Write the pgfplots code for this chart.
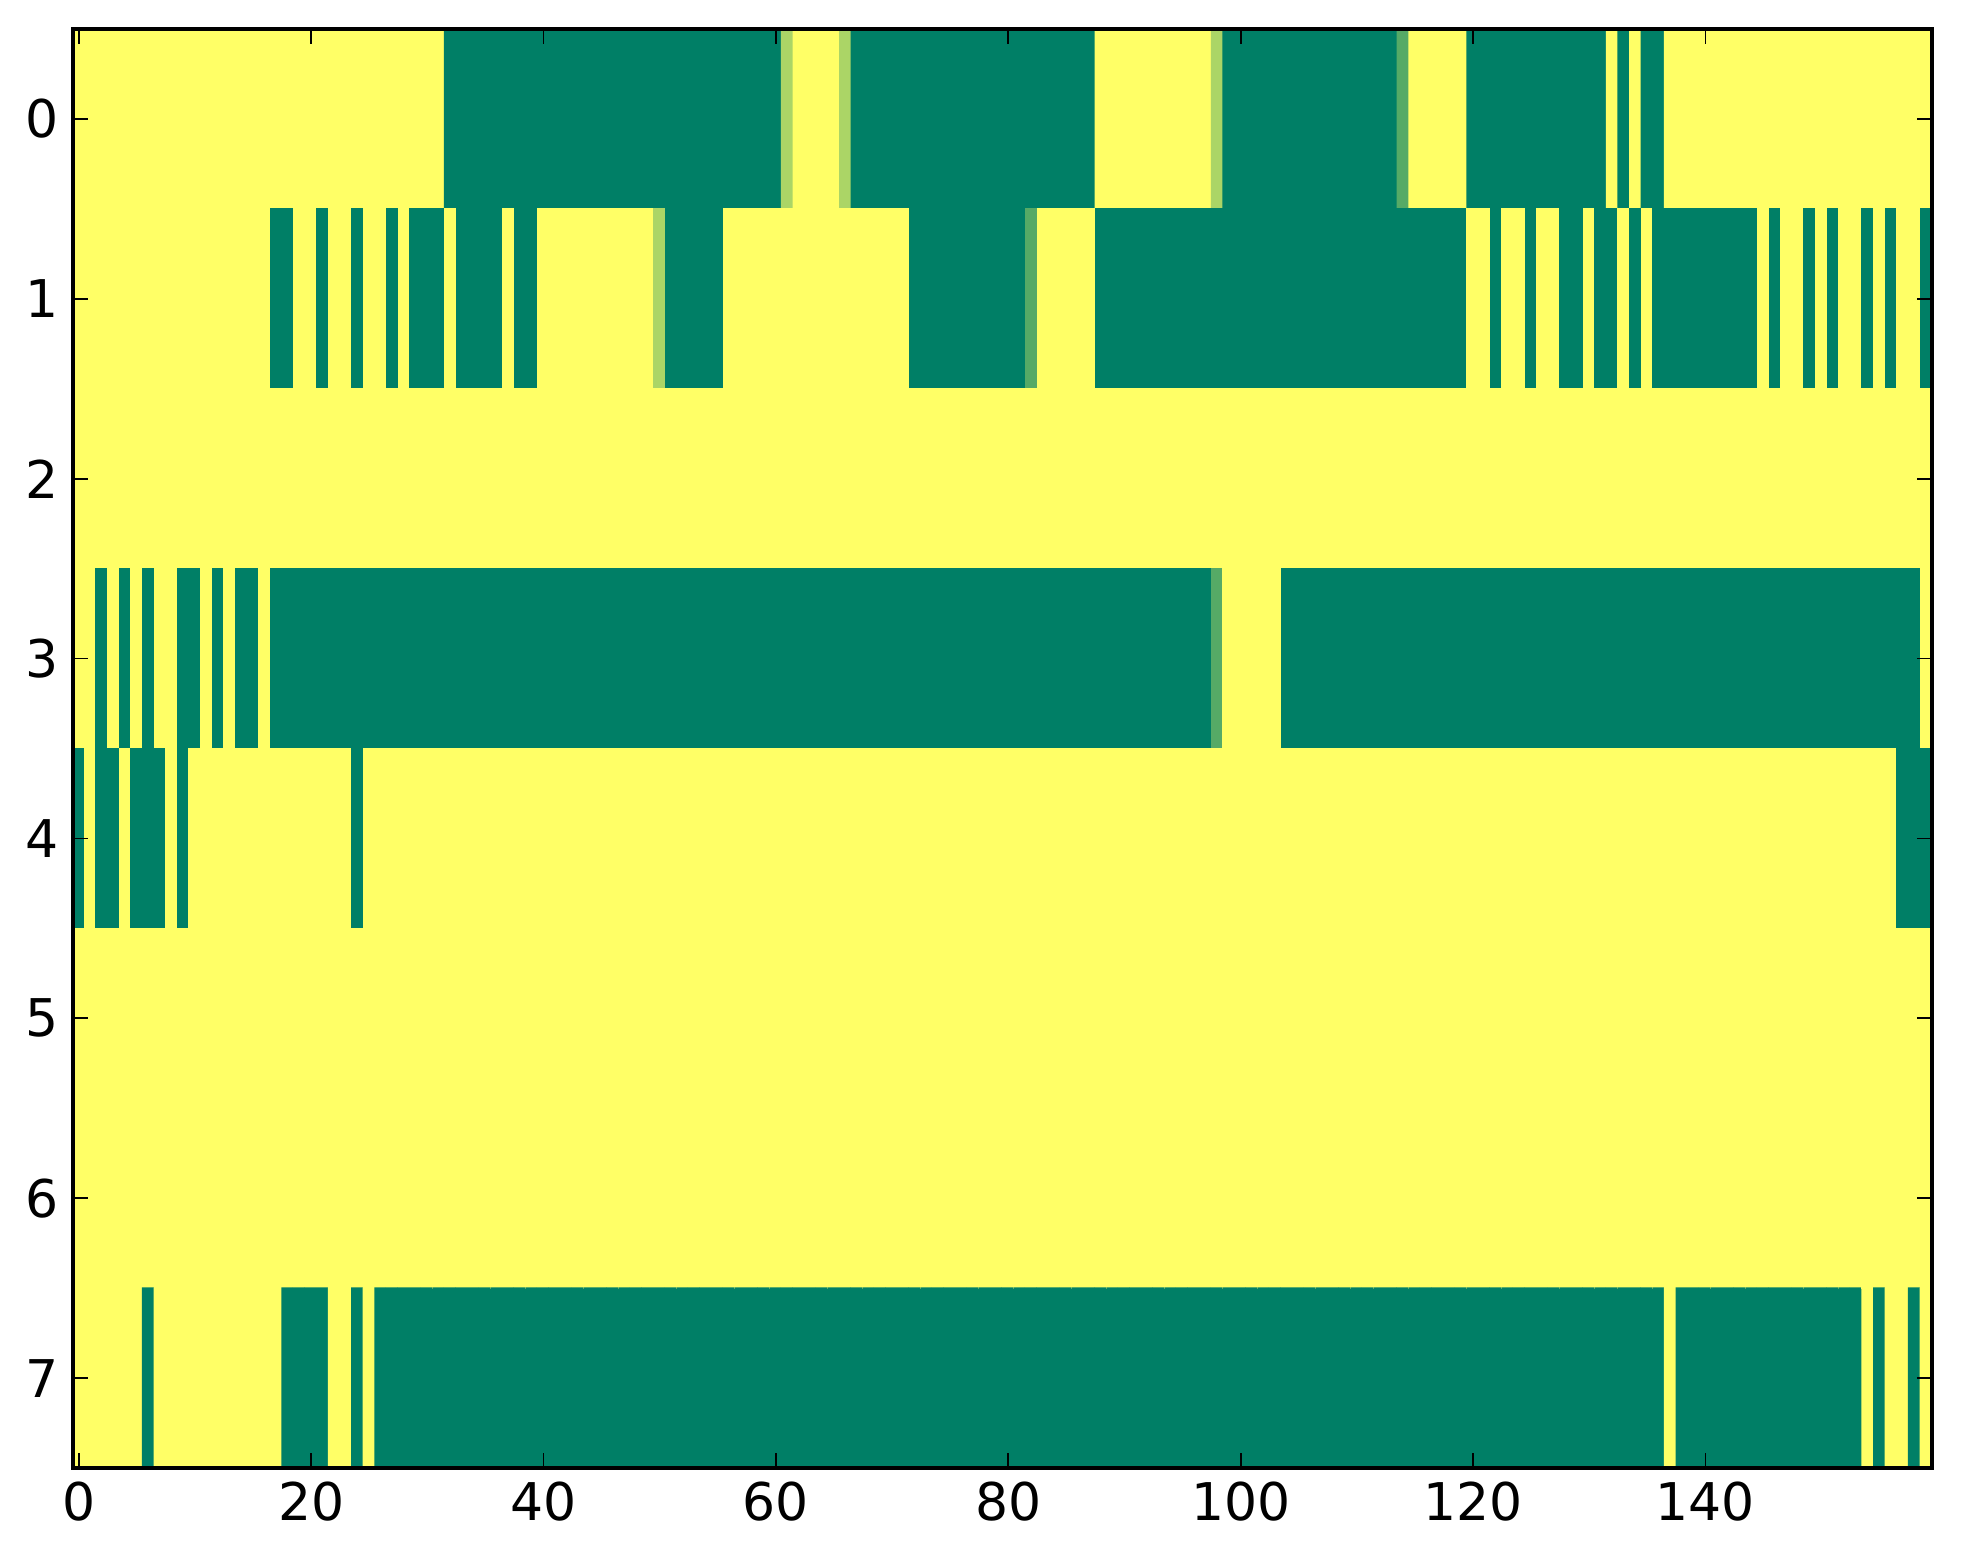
\documentclass[border=0pt]{standalone}
\usepackage{pgfplots}
\pgfplotsset{compat=1.18}
\usepackage{fontspec}
\setmainfont{DejaVu Sans}
\begin{document}
\begin{tikzpicture}
\begin{axis}[
  at={(0,0)}, anchor=south west,
  scale only axis, width=464.75pt, height=359.75pt,
  xmin=-0.5, xmax=159.5, ymin=-0.5, ymax=7.5,
  y dir=reverse,
  xtick={0,20,...,140}, ytick={0,1,...,7},
  tick align=inside, tick pos=both,
  major tick length=3.7pt,
  every tick/.style={line width=0.45pt, black},
  axis line style={line width=0.8pt},
  ticklabel style={font=\fontsize{13}{13}\selectfont},
  /pgf/number format/assume math mode=true,
  colormap={summer}{rgb255=(0,127,102) rgb255=(255,255,102)},
  point meta min=0, point meta max=1,
  axis on top,
  enlargelimits=false,
]
\addplot[matrix plot*, mesh/cols=160, point meta=explicit] table[x=x, y=y, meta=c, row sep=\\] {
x y c\\
0 0 1\\1 0 1\\2 0 1\\3 0 1\\4 0 1\\5 0 1\\6 0 1\\7 0 1\\8 0 1\\9 0 1\\
10 0 1\\11 0 1\\12 0 1\\13 0 1\\14 0 1\\15 0 1\\16 0 1\\17 0 1\\18 0 1\\19 0 1\\
20 0 1\\21 0 1\\22 0 1\\23 0 1\\24 0 1\\25 0 1\\26 0 1\\27 0 1\\28 0 1\\29 0 1\\
30 0 1\\31 0 1\\32 0 0\\33 0 0\\34 0 0\\35 0 0\\36 0 0\\37 0 0\\38 0 0\\39 0 0\\
40 0 0\\41 0 0\\42 0 0\\43 0 0\\44 0 0\\45 0 0\\46 0 0\\47 0 0\\48 0 0\\49 0 0\\
50 0 0\\51 0 0\\52 0 0\\53 0 0\\54 0 0\\55 0 0\\56 0 0\\57 0 0\\58 0 0\\59 0 0\\
60 0 0\\61 0 0.667\\62 0 1\\63 0 1\\64 0 1\\65 0 1\\66 0 0.667\\67 0 0\\68 0 0\\69 0 0\\
70 0 0\\71 0 0\\72 0 0\\73 0 0\\74 0 0\\75 0 0\\76 0 0\\77 0 0\\78 0 0\\79 0 0\\
80 0 0\\81 0 0\\82 0 0\\83 0 0\\84 0 0\\85 0 0\\86 0 0\\87 0 0\\88 0 1\\89 0 1\\
90 0 1\\91 0 1\\92 0 1\\93 0 1\\94 0 1\\95 0 1\\96 0 1\\97 0 1\\98 0 0.667\\99 0 0\\
100 0 0\\101 0 0\\102 0 0\\103 0 0\\104 0 0\\105 0 0\\106 0 0\\107 0 0\\108 0 0\\109 0 0\\
110 0 0\\111 0 0\\112 0 0\\113 0 0\\114 0 0.333\\115 0 1\\116 0 1\\117 0 1\\118 0 1\\119 0 1\\
120 0 0\\121 0 0\\122 0 0\\123 0 0\\124 0 0\\125 0 0\\126 0 0\\127 0 0\\128 0 0\\129 0 0\\
130 0 0\\131 0 0\\132 0 1\\133 0 0\\134 0 1\\135 0 0\\136 0 0\\137 0 1\\138 0 1\\139 0 1\\
140 0 1\\141 0 1\\142 0 1\\143 0 1\\144 0 1\\145 0 1\\146 0 1\\147 0 1\\148 0 1\\149 0 1\\
150 0 1\\151 0 1\\152 0 1\\153 0 1\\154 0 1\\155 0 1\\156 0 1\\157 0 1\\158 0 1\\159 0 1\\
0 1 1\\1 1 1\\2 1 1\\3 1 1\\4 1 1\\5 1 1\\6 1 1\\7 1 1\\8 1 1\\9 1 1\\
10 1 1\\11 1 1\\12 1 1\\13 1 1\\14 1 1\\15 1 1\\16 1 1\\17 1 0\\18 1 0\\19 1 1\\
20 1 1\\21 1 0\\22 1 1\\23 1 1\\24 1 0\\25 1 1\\26 1 1\\27 1 0\\28 1 1\\29 1 0\\
30 1 0\\31 1 0\\32 1 1\\33 1 0\\34 1 0\\35 1 0\\36 1 0\\37 1 1\\38 1 0\\39 1 0\\
40 1 1\\41 1 1\\42 1 1\\43 1 1\\44 1 1\\45 1 1\\46 1 1\\47 1 1\\48 1 1\\49 1 1\\
50 1 0.667\\51 1 0\\52 1 0\\53 1 0\\54 1 0\\55 1 0\\56 1 1\\57 1 1\\58 1 1\\59 1 1\\
60 1 1\\61 1 1\\62 1 1\\63 1 1\\64 1 1\\65 1 1\\66 1 1\\67 1 1\\68 1 1\\69 1 1\\
70 1 1\\71 1 1\\72 1 0\\73 1 0\\74 1 0\\75 1 0\\76 1 0\\77 1 0\\78 1 0\\79 1 0\\
80 1 0\\81 1 0\\82 1 0.333\\83 1 1\\84 1 1\\85 1 1\\86 1 1\\87 1 1\\88 1 0\\89 1 0\\
90 1 0\\91 1 0\\92 1 0\\93 1 0\\94 1 0\\95 1 0\\96 1 0\\97 1 0\\98 1 0\\99 1 0\\
100 1 0\\101 1 0\\102 1 0\\103 1 0\\104 1 0\\105 1 0\\106 1 0\\107 1 0\\108 1 0\\109 1 0\\
110 1 0\\111 1 0\\112 1 0\\113 1 0\\114 1 0\\115 1 0\\116 1 0\\117 1 0\\118 1 0\\119 1 0\\
120 1 1\\121 1 1\\122 1 0\\123 1 1\\124 1 1\\125 1 0\\126 1 1\\127 1 1\\128 1 0\\129 1 0\\
130 1 1\\131 1 0\\132 1 0\\133 1 1\\134 1 0\\135 1 1\\136 1 0\\137 1 0\\138 1 0\\139 1 0\\
140 1 0\\141 1 0\\142 1 0\\143 1 0\\144 1 0\\145 1 1\\146 1 0\\147 1 1\\148 1 1\\149 1 0\\
150 1 1\\151 1 0\\152 1 1\\153 1 1\\154 1 0\\155 1 1\\156 1 0\\157 1 1\\158 1 1\\159 1 0\\
0 2 1\\1 2 1\\2 2 1\\3 2 1\\4 2 1\\5 2 1\\6 2 1\\7 2 1\\8 2 1\\9 2 1\\
10 2 1\\11 2 1\\12 2 1\\13 2 1\\14 2 1\\15 2 1\\16 2 1\\17 2 1\\18 2 1\\19 2 1\\
20 2 1\\21 2 1\\22 2 1\\23 2 1\\24 2 1\\25 2 1\\26 2 1\\27 2 1\\28 2 1\\29 2 1\\
30 2 1\\31 2 1\\32 2 1\\33 2 1\\34 2 1\\35 2 1\\36 2 1\\37 2 1\\38 2 1\\39 2 1\\
40 2 1\\41 2 1\\42 2 1\\43 2 1\\44 2 1\\45 2 1\\46 2 1\\47 2 1\\48 2 1\\49 2 1\\
50 2 1\\51 2 1\\52 2 1\\53 2 1\\54 2 1\\55 2 1\\56 2 1\\57 2 1\\58 2 1\\59 2 1\\
60 2 1\\61 2 1\\62 2 1\\63 2 1\\64 2 1\\65 2 1\\66 2 1\\67 2 1\\68 2 1\\69 2 1\\
70 2 1\\71 2 1\\72 2 1\\73 2 1\\74 2 1\\75 2 1\\76 2 1\\77 2 1\\78 2 1\\79 2 1\\
80 2 1\\81 2 1\\82 2 1\\83 2 1\\84 2 1\\85 2 1\\86 2 1\\87 2 1\\88 2 1\\89 2 1\\
90 2 1\\91 2 1\\92 2 1\\93 2 1\\94 2 1\\95 2 1\\96 2 1\\97 2 1\\98 2 1\\99 2 1\\
100 2 1\\101 2 1\\102 2 1\\103 2 1\\104 2 1\\105 2 1\\106 2 1\\107 2 1\\108 2 1\\109 2 1\\
110 2 1\\111 2 1\\112 2 1\\113 2 1\\114 2 1\\115 2 1\\116 2 1\\117 2 1\\118 2 1\\119 2 1\\
120 2 1\\121 2 1\\122 2 1\\123 2 1\\124 2 1\\125 2 1\\126 2 1\\127 2 1\\128 2 1\\129 2 1\\
130 2 1\\131 2 1\\132 2 1\\133 2 1\\134 2 1\\135 2 1\\136 2 1\\137 2 1\\138 2 1\\139 2 1\\
140 2 1\\141 2 1\\142 2 1\\143 2 1\\144 2 1\\145 2 1\\146 2 1\\147 2 1\\148 2 1\\149 2 1\\
150 2 1\\151 2 1\\152 2 1\\153 2 1\\154 2 1\\155 2 1\\156 2 1\\157 2 1\\158 2 1\\159 2 1\\
0 3 1\\1 3 1\\2 3 0\\3 3 1\\4 3 0\\5 3 1\\6 3 0\\7 3 1\\8 3 1\\9 3 0\\
10 3 0\\11 3 1\\12 3 0\\13 3 1\\14 3 0\\15 3 0\\16 3 1\\17 3 0\\18 3 0\\19 3 0\\
20 3 0\\21 3 0\\22 3 0\\23 3 0\\24 3 0\\25 3 0\\26 3 0\\27 3 0\\28 3 0\\29 3 0\\
30 3 0\\31 3 0\\32 3 0\\33 3 0\\34 3 0\\35 3 0\\36 3 0\\37 3 0\\38 3 0\\39 3 0\\
40 3 0\\41 3 0\\42 3 0\\43 3 0\\44 3 0\\45 3 0\\46 3 0\\47 3 0\\48 3 0\\49 3 0\\
50 3 0\\51 3 0\\52 3 0\\53 3 0\\54 3 0\\55 3 0\\56 3 0\\57 3 0\\58 3 0\\59 3 0\\
60 3 0\\61 3 0\\62 3 0\\63 3 0\\64 3 0\\65 3 0\\66 3 0\\67 3 0\\68 3 0\\69 3 0\\
70 3 0\\71 3 0\\72 3 0\\73 3 0\\74 3 0\\75 3 0\\76 3 0\\77 3 0\\78 3 0\\79 3 0\\
80 3 0\\81 3 0\\82 3 0\\83 3 0\\84 3 0\\85 3 0\\86 3 0\\87 3 0\\88 3 0\\89 3 0\\
90 3 0\\91 3 0\\92 3 0\\93 3 0\\94 3 0\\95 3 0\\96 3 0\\97 3 0\\98 3 0.333\\99 3 1\\
100 3 1\\101 3 1\\102 3 1\\103 3 1\\104 3 0\\105 3 0\\106 3 0\\107 3 0\\108 3 0\\109 3 0\\
110 3 0\\111 3 0\\112 3 0\\113 3 0\\114 3 0\\115 3 0\\116 3 0\\117 3 0\\118 3 0\\119 3 0\\
120 3 0\\121 3 0\\122 3 0\\123 3 0\\124 3 0\\125 3 0\\126 3 0\\127 3 0\\128 3 0\\129 3 0\\
130 3 0\\131 3 0\\132 3 0\\133 3 0\\134 3 0\\135 3 0\\136 3 0\\137 3 0\\138 3 0\\139 3 0\\
140 3 0\\141 3 0\\142 3 0\\143 3 0\\144 3 0\\145 3 0\\146 3 0\\147 3 0\\148 3 0\\149 3 0\\
150 3 0\\151 3 0\\152 3 0\\153 3 0\\154 3 0\\155 3 0\\156 3 0\\157 3 0\\158 3 0\\159 3 1\\
0 4 0\\1 4 1\\2 4 0\\3 4 0\\4 4 1\\5 4 0\\6 4 0\\7 4 0\\8 4 1\\9 4 0\\
10 4 1\\11 4 1\\12 4 1\\13 4 1\\14 4 1\\15 4 1\\16 4 1\\17 4 1\\18 4 1\\19 4 1\\
20 4 1\\21 4 1\\22 4 1\\23 4 1\\24 4 0\\25 4 1\\26 4 1\\27 4 1\\28 4 1\\29 4 1\\
30 4 1\\31 4 1\\32 4 1\\33 4 1\\34 4 1\\35 4 1\\36 4 1\\37 4 1\\38 4 1\\39 4 1\\
40 4 1\\41 4 1\\42 4 1\\43 4 1\\44 4 1\\45 4 1\\46 4 1\\47 4 1\\48 4 1\\49 4 1\\
50 4 1\\51 4 1\\52 4 1\\53 4 1\\54 4 1\\55 4 1\\56 4 1\\57 4 1\\58 4 1\\59 4 1\\
60 4 1\\61 4 1\\62 4 1\\63 4 1\\64 4 1\\65 4 1\\66 4 1\\67 4 1\\68 4 1\\69 4 1\\
70 4 1\\71 4 1\\72 4 1\\73 4 1\\74 4 1\\75 4 1\\76 4 1\\77 4 1\\78 4 1\\79 4 1\\
80 4 1\\81 4 1\\82 4 1\\83 4 1\\84 4 1\\85 4 1\\86 4 1\\87 4 1\\88 4 1\\89 4 1\\
90 4 1\\91 4 1\\92 4 1\\93 4 1\\94 4 1\\95 4 1\\96 4 1\\97 4 1\\98 4 1\\99 4 1\\
100 4 1\\101 4 1\\102 4 1\\103 4 1\\104 4 1\\105 4 1\\106 4 1\\107 4 1\\108 4 1\\109 4 1\\
110 4 1\\111 4 1\\112 4 1\\113 4 1\\114 4 1\\115 4 1\\116 4 1\\117 4 1\\118 4 1\\119 4 1\\
120 4 1\\121 4 1\\122 4 1\\123 4 1\\124 4 1\\125 4 1\\126 4 1\\127 4 1\\128 4 1\\129 4 1\\
130 4 1\\131 4 1\\132 4 1\\133 4 1\\134 4 1\\135 4 1\\136 4 1\\137 4 1\\138 4 1\\139 4 1\\
140 4 1\\141 4 1\\142 4 1\\143 4 1\\144 4 1\\145 4 1\\146 4 1\\147 4 1\\148 4 1\\149 4 1\\
150 4 1\\151 4 1\\152 4 1\\153 4 1\\154 4 1\\155 4 1\\156 4 1\\157 4 0\\158 4 0\\159 4 0\\
0 5 1\\1 5 1\\2 5 1\\3 5 1\\4 5 1\\5 5 1\\6 5 1\\7 5 1\\8 5 1\\9 5 1\\
10 5 1\\11 5 1\\12 5 1\\13 5 1\\14 5 1\\15 5 1\\16 5 1\\17 5 1\\18 5 1\\19 5 1\\
20 5 1\\21 5 1\\22 5 1\\23 5 1\\24 5 1\\25 5 1\\26 5 1\\27 5 1\\28 5 1\\29 5 1\\
30 5 1\\31 5 1\\32 5 1\\33 5 1\\34 5 1\\35 5 1\\36 5 1\\37 5 1\\38 5 1\\39 5 1\\
40 5 1\\41 5 1\\42 5 1\\43 5 1\\44 5 1\\45 5 1\\46 5 1\\47 5 1\\48 5 1\\49 5 1\\
50 5 1\\51 5 1\\52 5 1\\53 5 1\\54 5 1\\55 5 1\\56 5 1\\57 5 1\\58 5 1\\59 5 1\\
60 5 1\\61 5 1\\62 5 1\\63 5 1\\64 5 1\\65 5 1\\66 5 1\\67 5 1\\68 5 1\\69 5 1\\
70 5 1\\71 5 1\\72 5 1\\73 5 1\\74 5 1\\75 5 1\\76 5 1\\77 5 1\\78 5 1\\79 5 1\\
80 5 1\\81 5 1\\82 5 1\\83 5 1\\84 5 1\\85 5 1\\86 5 1\\87 5 1\\88 5 1\\89 5 1\\
90 5 1\\91 5 1\\92 5 1\\93 5 1\\94 5 1\\95 5 1\\96 5 1\\97 5 1\\98 5 1\\99 5 1\\
100 5 1\\101 5 1\\102 5 1\\103 5 1\\104 5 1\\105 5 1\\106 5 1\\107 5 1\\108 5 1\\109 5 1\\
110 5 1\\111 5 1\\112 5 1\\113 5 1\\114 5 1\\115 5 1\\116 5 1\\117 5 1\\118 5 1\\119 5 1\\
120 5 1\\121 5 1\\122 5 1\\123 5 1\\124 5 1\\125 5 1\\126 5 1\\127 5 1\\128 5 1\\129 5 1\\
130 5 1\\131 5 1\\132 5 1\\133 5 1\\134 5 1\\135 5 1\\136 5 1\\137 5 1\\138 5 1\\139 5 1\\
140 5 1\\141 5 1\\142 5 1\\143 5 1\\144 5 1\\145 5 1\\146 5 1\\147 5 1\\148 5 1\\149 5 1\\
150 5 1\\151 5 1\\152 5 1\\153 5 1\\154 5 1\\155 5 1\\156 5 1\\157 5 1\\158 5 1\\159 5 1\\
0 6 1\\1 6 1\\2 6 1\\3 6 1\\4 6 1\\5 6 1\\6 6 1\\7 6 1\\8 6 1\\9 6 1\\
10 6 1\\11 6 1\\12 6 1\\13 6 1\\14 6 1\\15 6 1\\16 6 1\\17 6 1\\18 6 1\\19 6 1\\
20 6 1\\21 6 1\\22 6 1\\23 6 1\\24 6 1\\25 6 1\\26 6 1\\27 6 1\\28 6 1\\29 6 1\\
30 6 1\\31 6 1\\32 6 1\\33 6 1\\34 6 1\\35 6 1\\36 6 1\\37 6 1\\38 6 1\\39 6 1\\
40 6 1\\41 6 1\\42 6 1\\43 6 1\\44 6 1\\45 6 1\\46 6 1\\47 6 1\\48 6 1\\49 6 1\\
50 6 1\\51 6 1\\52 6 1\\53 6 1\\54 6 1\\55 6 1\\56 6 1\\57 6 1\\58 6 1\\59 6 1\\
60 6 1\\61 6 1\\62 6 1\\63 6 1\\64 6 1\\65 6 1\\66 6 1\\67 6 1\\68 6 1\\69 6 1\\
70 6 1\\71 6 1\\72 6 1\\73 6 1\\74 6 1\\75 6 1\\76 6 1\\77 6 1\\78 6 1\\79 6 1\\
80 6 1\\81 6 1\\82 6 1\\83 6 1\\84 6 1\\85 6 1\\86 6 1\\87 6 1\\88 6 1\\89 6 1\\
90 6 1\\91 6 1\\92 6 1\\93 6 1\\94 6 1\\95 6 1\\96 6 1\\97 6 1\\98 6 1\\99 6 1\\
100 6 1\\101 6 1\\102 6 1\\103 6 1\\104 6 1\\105 6 1\\106 6 1\\107 6 1\\108 6 1\\109 6 1\\
110 6 1\\111 6 1\\112 6 1\\113 6 1\\114 6 1\\115 6 1\\116 6 1\\117 6 1\\118 6 1\\119 6 1\\
120 6 1\\121 6 1\\122 6 1\\123 6 1\\124 6 1\\125 6 1\\126 6 1\\127 6 1\\128 6 1\\129 6 1\\
130 6 1\\131 6 1\\132 6 1\\133 6 1\\134 6 1\\135 6 1\\136 6 1\\137 6 1\\138 6 1\\139 6 1\\
140 6 1\\141 6 1\\142 6 1\\143 6 1\\144 6 1\\145 6 1\\146 6 1\\147 6 1\\148 6 1\\149 6 1\\
150 6 1\\151 6 1\\152 6 1\\153 6 1\\154 6 1\\155 6 1\\156 6 1\\157 6 1\\158 6 1\\159 6 1\\
0 7 1\\1 7 1\\2 7 1\\3 7 1\\4 7 1\\5 7 1\\6 7 0\\7 7 1\\8 7 1\\9 7 1\\
10 7 1\\11 7 1\\12 7 1\\13 7 1\\14 7 1\\15 7 1\\16 7 1\\17 7 1\\18 7 0\\19 7 0\\
20 7 0\\21 7 0\\22 7 1\\23 7 1\\24 7 0\\25 7 1\\26 7 0\\27 7 0\\28 7 0\\29 7 0\\
30 7 0\\31 7 0\\32 7 0\\33 7 0\\34 7 0\\35 7 0\\36 7 0\\37 7 0\\38 7 0\\39 7 0\\
40 7 0\\41 7 0\\42 7 0\\43 7 0\\44 7 0\\45 7 0\\46 7 0\\47 7 0\\48 7 0\\49 7 0\\
50 7 0\\51 7 0\\52 7 0\\53 7 0\\54 7 0\\55 7 0\\56 7 0\\57 7 0\\58 7 0\\59 7 0\\
60 7 0\\61 7 0\\62 7 0\\63 7 0\\64 7 0\\65 7 0\\66 7 0\\67 7 0\\68 7 0\\69 7 0\\
70 7 0\\71 7 0\\72 7 0\\73 7 0\\74 7 0\\75 7 0\\76 7 0\\77 7 0\\78 7 0\\79 7 0\\
80 7 0\\81 7 0\\82 7 0\\83 7 0\\84 7 0\\85 7 0\\86 7 0\\87 7 0\\88 7 0\\89 7 0\\
90 7 0\\91 7 0\\92 7 0\\93 7 0\\94 7 0\\95 7 0\\96 7 0\\97 7 0\\98 7 0\\99 7 0\\
100 7 0\\101 7 0\\102 7 0\\103 7 0\\104 7 0\\105 7 0\\106 7 0\\107 7 0\\108 7 0\\109 7 0\\
110 7 0\\111 7 0\\112 7 0\\113 7 0\\114 7 0\\115 7 0\\116 7 0\\117 7 0\\118 7 0\\119 7 0\\
120 7 0\\121 7 0\\122 7 0\\123 7 0\\124 7 0\\125 7 0\\126 7 0\\127 7 0\\128 7 0\\129 7 0\\
130 7 0\\131 7 0\\132 7 0\\133 7 0\\134 7 0\\135 7 0\\136 7 0\\137 7 1\\138 7 0\\139 7 0\\
140 7 0\\141 7 0\\142 7 0\\143 7 0\\144 7 0\\145 7 0\\146 7 0\\147 7 0\\148 7 0\\149 7 0\\
150 7 0\\151 7 0\\152 7 0\\153 7 0\\154 7 1\\155 7 0\\156 7 1\\157 7 1\\158 7 0\\159 7 1\\
};
\end{axis}
\path[use as bounding box] (-18.25pt,-24pt) rectangle (472.5pt,367pt);
\end{tikzpicture}
\end{document}
